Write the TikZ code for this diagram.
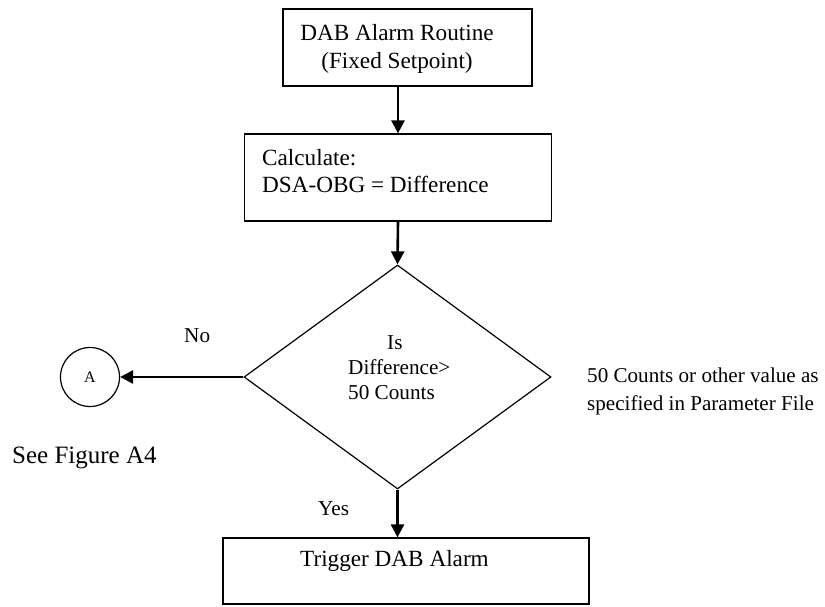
\documentclass[tikz,border=0pt]{standalone}
\usepackage{fontspec}
\setmainfont{Liberation Serif}
\usetikzlibrary{shapes.geometric,arrows.meta}
\begin{document}
\begin{tikzpicture}[x=1pt,y=-1pt,
  box/.style={draw,line width=1.2pt,rectangle,inner sep=0pt},
  dec/.style={draw,line width=1.2pt,diamond,inner sep=0pt},
  conn/.style={draw,line width=1.2pt,circle,inner sep=0pt,minimum size=59pt},
  flow/.style={line width=2.6pt,-{Triangle[length=13pt,width=13pt]}},
  bigtxt/.style={inner sep=0pt,font=\fontsize{23.2}{28}\selectfont},
  midtxt/.style={inner sep=0pt,font=\fontsize{21.2}{25}\selectfont},
  smalltxt/.style={inner sep=0pt,font=\fontsize{16}{18}\selectfont}]
  \useasboundingbox (0,0) rectangle (825,607);

  % process boxes
  \node[box,minimum width=249pt,minimum height=77pt] (start) at (407.5,47.5) {};
  \node[bigtxt,align=center] (starttxt) at (397,48.7) {DAB Alarm Routine\\(Fixed Setpoint)};

  \node[box,minimum width=307pt,minimum height=87pt] (calc) at (398,177.5) {};
  \node[bigtxt,align=left,anchor=west,font=\fontsize{23.2}{27}\selectfont] (calctxt) at (262,171) {Calculate:\\DSA-OBG = Difference};

  % decision
  \node[dec,minimum width=307pt,minimum height=224pt] (test) at (397.5,377) {};
  \node[midtxt,align=left,anchor=west] (testtxt) at (348,368) {\hspace*{39pt}Is\\Difference>\\50 Counts};

  \node[box,minimum width=366pt,minimum height=66pt] (alarm) at (406,571) {};
  \node[bigtxt,anchor=base west] (alarmtxt) at (300,566.7) {Trigger DAB Alarm};

  % off-page connector
  \node[conn] (conA) at (90,377) {};
  \node[smalltxt] (conAtxt) at (90,377) {A};

  % annotations
  \node[midtxt,anchor=base west] (no) at (184,342) {No};
  \node[midtxt,anchor=base west] (yes) at (318,515) {Yes};
  \node[inner sep=0pt,anchor=base west,font=\fontsize{25}{28}\selectfont] (seefig) at (12,463) {See Figure A4};
  \node[inner sep=0pt,align=left,anchor=west,font=\fontsize{21.1}{28}\selectfont] (note) at (587,391)
    {50 Counts or other value as\\specified in Parameter File};

  % connectors
  \draw[flow] (start.south -| 398,0) -- (calc.north -| 398,0);
  \draw[flow] (calc.south -| 398,0) -- (test.north);
  \draw[flow] (test.west) -- (conA.east);
  \draw[flow] (test.south) -- (alarm.north -| test.south);
\end{tikzpicture}
\end{document}
